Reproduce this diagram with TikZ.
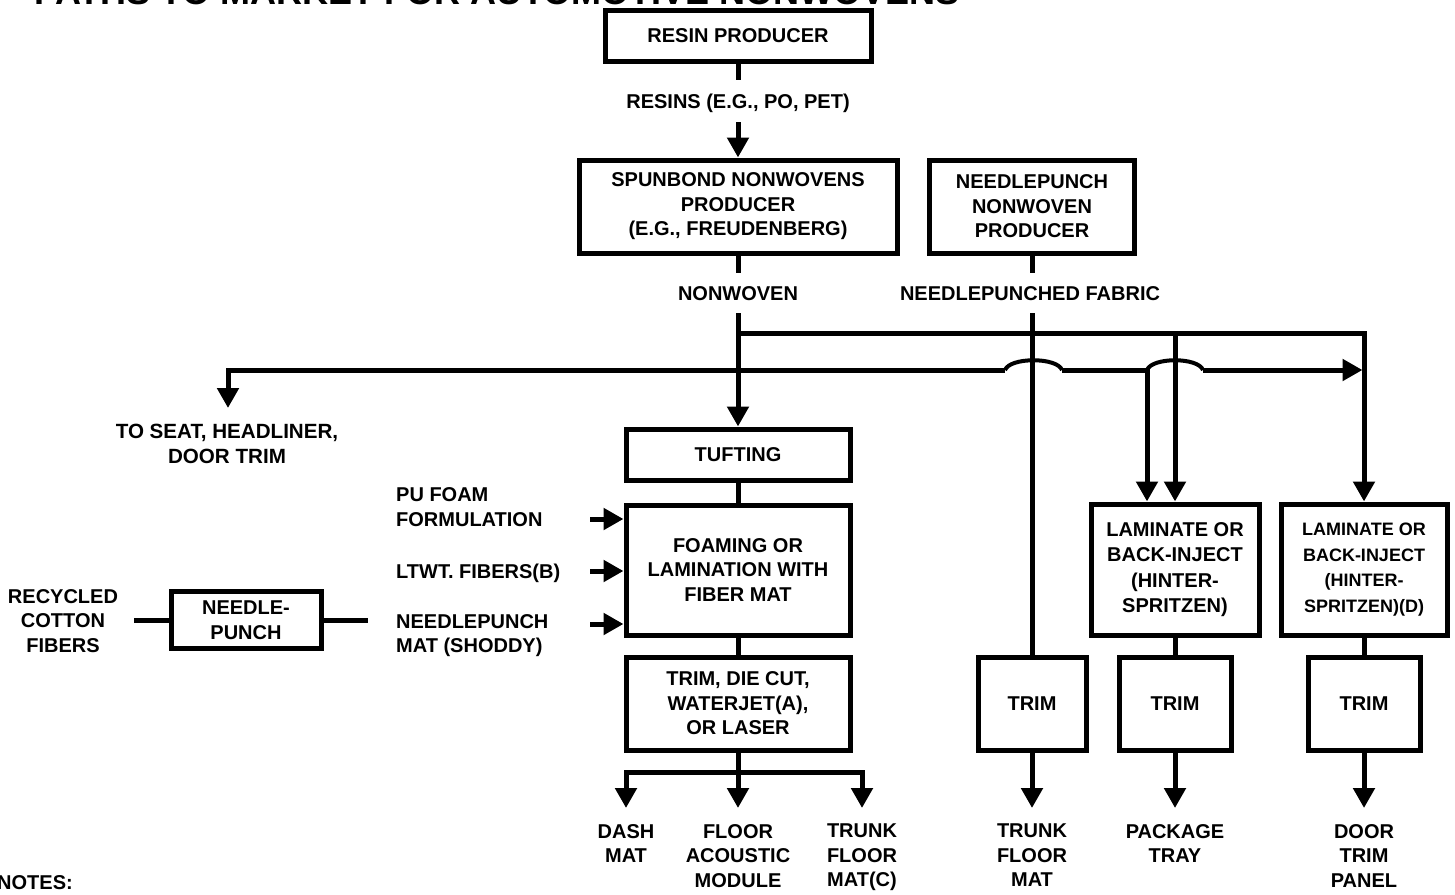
\documentclass[tikz,border=0pt]{standalone}
\usepackage{fontspec}
\setmainfont{Liberation Sans}
\usetikzlibrary{arrows.meta}
\begin{document}
\begin{tikzpicture}[x=1pt,y=-1pt,
  every node/.style={font=\fontsize{20}{24.5}\selectfont\bfseries, inner sep=0pt, align=center},
  box/.style={draw, line width=5pt, fill=white},
  lbl/.style={text height=14.5pt, text depth=0pt},
  conn/.style={line width=5pt},
  hop/.style={line width=4pt},
  arr/.style={conn, -{Triangle[width=21pt,length=20pt]}},
]
\useasboundingbox (0,0) rectangle (1455,894);

% title (cut at the top edge)
\node[anchor=base west, font=\fontsize{36}{40}\selectfont\bfseries] (title) at (34,5) {PATHS TO MARKET FOR AUTOMOTIVE NONWOVENS};

% boxes
\node[box, minimum width=266, minimum height=51] (resin) at (738,35.5) {RESIN PRODUCER};
\node[box, minimum width=318, minimum height=93] (spun) at (738,206.5) {SPUNBOND NONWOVENS\\PRODUCER\\(E.G., FREUDENBERG)};
\node[box, minimum width=205, minimum height=93] (npp) at (1032,206.5) {NEEDLEPUNCH\\NONWOVEN\\PRODUCER};
\node[box, minimum width=224, minimum height=51] (tuft) at (738,454.5) {TUFTING};
\node[box, minimum width=224, minimum height=130] (foam) at (738,570) {FOAMING OR\\LAMINATION WITH\\FIBER MAT};
\node[box, minimum width=224, minimum height=93] (tdc) at (738,703.5) {TRIM, DIE CUT,\\WATERJET(A),\\OR LASER};
\node[box, minimum width=150, minimum height=57] (ndl) at (246,620) {NEEDLE-\\PUNCH};
\node[box, minimum width=168, minimum height=131, font=\fontsize{20}{25.5}\selectfont\bfseries] (lam1) at (1175,569.5) {LAMINATE OR\\BACK-INJECT\\(HINTER-\\SPRITZEN)};
\node[box, minimum width=166, minimum height=131, font=\fontsize{18}{25.5}\selectfont\bfseries] (lam2) at (1364,569.5) {LAMINATE OR\\BACK-INJECT\\(HINTER-\\SPRITZEN)(D)};
\node[box, minimum width=108, minimum height=93] (trim1) at (1032,703.5) {TRIM};
\node[box, minimum width=112, minimum height=93] (trim2) at (1175,703.5) {TRIM};
\node[box, minimum width=112, minimum height=93] (trim3) at (1364,703.5) {TRIM};

% labels
\node[lbl, minimum height=42] (resins) at (738,101) {RESINS (E.G., PO, PET)};
\node[lbl, minimum height=40] (nw) at (738,293) {NONWOVEN};
\node[lbl, minimum height=40] (nf) at (1030,293) {NEEDLEPUNCHED FABRIC};
\node[anchor=north, font=\fontsize{20.6}{24.5}\selectfont\bfseries] (seat) at (227,424) {TO SEAT, HEADLINER,\\DOOR TRIM};
\node[anchor=north west, align=left] (pu) at (396,487.5) {PU FOAM\\FORMULATION};
\node[lbl, anchor=west] (lt) at (396,571) {LTWT. FIBERS(B)};
\node[anchor=north west, align=left] (np) at (396,614) {NEEDLEPUNCH\\MAT (SHODDY)};
\node (rcf) at (63,621) {RECYCLED\\COTTON\\FIBERS};
\node[anchor=north] (dash) at (626,824) {DASH\\MAT};
\node[anchor=north] (floor) at (738,824) {FLOOR\\ACOUSTIC\\MODULE};
\node[anchor=north] (tfm) at (862,824) {TRUNK\\FLOOR\\MAT(C)};
\node[anchor=north] (tfm2) at (1032,824) {TRUNK\\FLOOR\\MAT};
\node[anchor=north] (pkg) at (1175,824) {PACKAGE\\TRAY};
\node[anchor=north] (door) at (1364,824) {DOOR\\TRIM\\PANEL};
\node[anchor=base west] (notes) at (-3,889) {NOTES:};

% coordinates
\coordinate (j1) at (738,333);
\coordinate (j2) at (1175,333);
\coordinate (j3) at (738,370);
\coordinate (st) at (228,408);
\coordinate (h1a) at (1005,370);
\coordinate (h1b) at (1062,370);
\coordinate (h2a) at (1147,370);
\coordinate (h2b) at (1203,370);
\coordinate (rt) at (1362.5,370);
\coordinate (fk) at (738,772);
\coordinate (a1) at (590,519);
\coordinate (a2) at (590,571);
\coordinate (a3) at (590,624);
\coordinate (rl) at (134,620);
\coordinate (rr) at (368,620);

% connectors
\draw[conn] (resin.south) -- (resins.north);
\draw[arr] (resins.south) -- (spun.north);
\draw[conn] (spun.south) -- (nw.north);
\draw[arr] (nw.south) -- (tuft.north);
\draw[conn] (npp.south) -- (npp.south |- nf.north);
\draw[conn] (npp.south |- nf.south) -- (trim1.north);
\draw[arr] (j1) -| (lam2.north);
\draw[arr] (j2) -- (lam1.north);
\draw[arr] (j3) -| (st);
\draw[conn] (j3) -- (h1a);
\draw[hop] (h1a) .. controls +(5,-13) and +(-5,-13) .. (h1b);
\draw[arr] (h1b) -- (h2a) -- (h2a |- lam1.north);
\draw[hop] (h2a) .. controls +(5,-13) and +(-5,-13) .. (h2b);
\draw[arr] (h2b) -- (rt);

\draw[conn] (tuft.south) -- (foam.north);
\draw[conn] (foam.south) -- (tdc.north);
\draw[conn] (tdc.south) -- (fk);
\draw[arr] (fk) -| ([yshift=16pt]dash.north);
\draw[arr] (fk) -- ([yshift=16pt]floor.north);
\draw[arr] (fk) -| ([yshift=16pt]tfm.north);

\draw[arr] (a1) -- (a1 -| foam.west);
\draw[arr] (a2) -- (a2 -| foam.west);
\draw[arr] (a3) -- (a3 -| foam.west);
\draw[conn] (rl) -- (ndl.west);
\draw[conn] (ndl.east) -- (rr);

\draw[conn] (lam1.south) -- (trim2.north);
\draw[conn] (lam2.south) -- (trim3.north);
\draw[arr] (trim1.south) -- ([yshift=16pt]tfm2.north);
\draw[arr] (trim2.south) -- ([yshift=16pt]pkg.north);
\draw[arr] (trim3.south) -- ([yshift=16pt]door.north);
\end{tikzpicture}
\end{document}
